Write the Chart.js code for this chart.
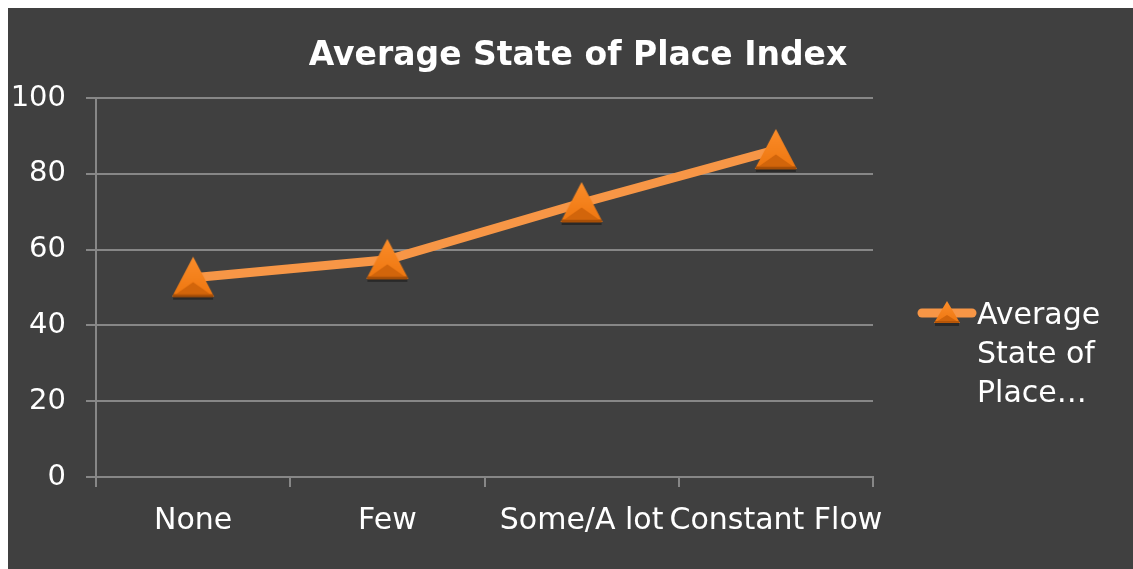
<!DOCTYPE html>
<html>
<head>
<meta charset="utf-8">
<script src="https://cdn.jsdelivr.net/npm/chart.js@4.4.1/dist/chart.umd.min.js"></script>
<style>
    html, body { margin: 0; padding: 0; background: #ffffff; }
    #wrap { position: absolute; left: 8px; top: 8px; width: 1125px; height: 561px; background: #404040; }
</style>
</head>
<body>
<div id="wrap"><canvas id="chart"></canvas></div>
<script>
// chart data
const categories = ['None', 'Few', 'Some/A lot', 'Constant Flow'];
const seriesName = 'Average State of Place Index';
const seriesValues = [52.6, 57.3, 72.3, 86.3];
const legendLines = ['Average', 'State of', 'Place…'];
const chartTitle = 'Average State of Place Index';

const FONT = '"Century Gothic", "URW Gothic", "DejaVu Sans", sans-serif';
const LINE_COLOR = '#f79646';
const GRID = '#878787';

// bevelled triangle marker, centred on its bounding box like Excel's
function makeTriangle(w, h) {
    const c = document.createElement('canvas');
    c.width = w + 6;
    c.height = h + 6;
    const g = c.getContext('2d');
    const l = 3, r = w + 3, t = 2, b = h + 2, cx = c.width / 2;
    // soft shadow
    g.fillStyle = 'rgba(0,0,0,0.35)';
    g.fillRect(l + 1, b, w - 2, 3);
    const grad = g.createLinearGradient(0, t, 0, b);
    grad.addColorStop(0, '#fb8d2a');
    grad.addColorStop(1, '#ee760f');
    g.fillStyle = grad;
    g.beginPath();
    g.moveTo(cx, t);
    g.lineTo(r, b);
    g.lineTo(l, b);
    g.closePath();
    g.fill();
    // darker lower facet
    g.fillStyle = '#d2650b';
    g.beginPath();
    g.moveTo(l + w * 0.1, b - h * 0.07);
    g.lineTo(cx, b - h * 0.36);
    g.lineTo(r - w * 0.1, b - h * 0.07);
    g.closePath();
    g.fill();
    g.strokeStyle = '#a84f07';
    g.lineWidth = Math.max(1.5, h * 0.07);
    g.beginPath();
    g.moveTo(l + 1, b - 1);
    g.lineTo(r - 1, b - 1);
    g.stroke();
    return c;
}
const markerBig = makeTriangle(42, 40);
const markerSmall = makeTriangle(26, 22);

// title + wrapped legend, drawn by hand
const decorations = {
    id: 'decorations',
    afterDraw(chart) {
        const ctx = chart.ctx;
        ctx.save();
        ctx.fillStyle = '#ffffff';
        ctx.font = 'bold 33px ' + FONT;
        ctx.textAlign = 'center';
        ctx.textBaseline = 'alphabetic';
        ctx.fillText(chartTitle, 570, 57);

        // legend sample
        const ly = 305;
        ctx.strokeStyle = LINE_COLOR;
        ctx.lineWidth = 9;
        ctx.lineCap = 'round';
        ctx.beginPath();
        ctx.moveTo(914, ly);
        ctx.lineTo(964, ly);
        ctx.stroke();
        ctx.drawImage(markerSmall, 939 - markerSmall.width / 2, ly - markerSmall.height / 2);

        ctx.fillStyle = '#ffffff';
        ctx.font = '30px ' + FONT;
        ctx.textAlign = 'left';
        legendLines.forEach((t, i) => {
            ctx.fillText(t, 969, 316 + i * 39);
        });
        ctx.restore();
    }
};

new Chart(document.getElementById('chart'), {
    type: 'line',
    data: {
        labels: categories,
        datasets: [{
            label: seriesName,
            data: seriesValues,
            borderColor: LINE_COLOR,
            borderWidth: 9,
            pointStyle: markerBig,
            pointRadius: 22,
            pointHoverRadius: 22,
            tension: 0
        }]
    },
    options: {
        responsive: true,
        maintainAspectRatio: false,
        animation: false,
        layout: { padding: { left: 0, top: 90, right: 260, bottom: 0 } },
        plugins: {
            legend: { display: false },
            title: { display: false },
            tooltip: { enabled: false }
        },
        scales: {
            x: {
                offset: true,
                grid: { offset: true, drawOnChartArea: false, color: GRID, lineWidth: 2, tickLength: 10 },
                border: { color: GRID, width: 2 },
                ticks: {
                    color: '#ffffff', font: { family: FONT, size: 30 },
                    autoSkip: false, maxRotation: 0, minRotation: 0, padding: 16
                },
                afterFit: (s) => { s.height = 92; }
            },
            y: {
                min: 0, max: 100,
                ticks: { stepSize: 20, color: '#ffffff', font: { family: FONT, size: 29 }, padding: 20 },
                grid: { color: GRID, lineWidth: 2, tickLength: 10 },
                border: { color: GRID, width: 2 },
                afterFit: (s) => { s.width = 88; }
            }
        }
    },
    plugins: [decorations]
});
</script>
</body>
</html>
